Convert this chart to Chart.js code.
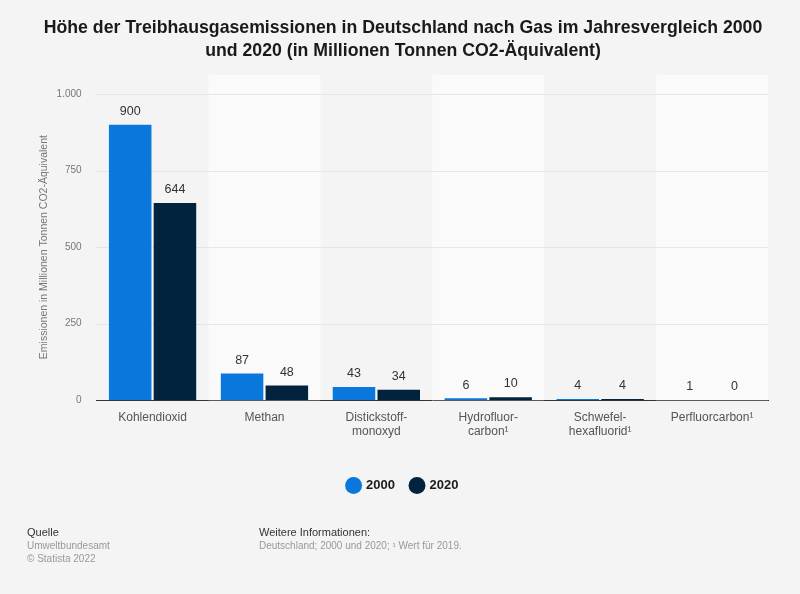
<!DOCTYPE html>
<html>
<head>
<meta charset="utf-8">
<script src="https://cdn.jsdelivr.net/npm/chart.js@4/dist/chart.umd.min.js"></script>
<style>
  html, body { margin:0; padding:0; background:#f4f4f4; }
  #wrap { position:relative; width:800px; height:594px; font-family:"Liberation Sans", Arial, sans-serif; }
  canvas { position:absolute; left:0; top:0; }
  .foot { position:absolute; font-size:10px; line-height:13px; color:#999; }
  .foot b { font-weight:normal; color:#333; font-size:11px; }
</style>
</head>
<body>
<div id="wrap">
  <canvas id="c" width="800" height="594"></canvas>
  <div class="foot" style="left:27px; top:526px;"><b>Quelle</b><br>Umweltbundesamt<br>© Statista 2022</div>
  <div class="foot" style="left:259px; top:526px;"><b>Weitere Informationen:</b><br>Deutschland; 2000 und 2020; ¹ Wert für 2019.</div>
</div>
<script>
const categories = [
  ["Kohlendioxid"],
  ["Methan"],
  ["Distickstoff-", "monoxyd"],
  ["Hydrofluor-", "carbon¹"],
  ["Schwefel-", "hexafluorid¹"],
  ["Perfluorcarbon¹"]
];
const seriesNames = ["2000", "2020"];
const values2000 = [900, 87, 43, 6, 4, 1];
const values2020 = [644, 48, 34, 10, 4, 0];
const yTicks = [0, 250, 500, 750, 1000];
const titleLines = [
  "Höhe der Treibhausgasemissionen in Deutschland nach Gas im Jahresvergleich 2000",
  "und 2020 (in Millionen Tonnen CO2-Äquivalent)"
];
const yAxisTitle = "Emissionen in Millionen Tonnen CO2-Äquivalent";

function fmt(v) {
  return String(v).replace(/\B(?=(\d{3})+(?!\d))/g, ".");
}

const bandsPlugin = {
  id: "bands",
  beforeDatasetsDraw(chart) {
    const { ctx, chartArea, scales } = chart;
    const xs = scales.x;
    ctx.save();
    ctx.fillStyle = "#fafafa";
    const w = (chartArea.right - chartArea.left) / categories.length;
    for (let i = 0; i < categories.length; i++) {
      if (i % 2 === 1) {
        const c = xs.getPixelForValue(i);
        ctx.fillRect(c - w / 2, chartArea.top - 19, w, chartArea.bottom - chartArea.top + 19);
      }
    }
    ctx.restore();
    ctx.save();
    ctx.strokeStyle = "#d4d4d4";
    ctx.setLineDash([1, 1]);
    ctx.lineWidth = 1;
    scales.y.ticks.forEach(t => {
      if (t.value === 0) return;
      const y = Math.round(scales.y.getPixelForValue(t.value)) + 0.5;
      ctx.beginPath();
      ctx.moveTo(chartArea.left, y);
      ctx.lineTo(chartArea.right, y);
      ctx.stroke();
    });
    ctx.restore();
  },
  afterDatasetsDraw(chart) {
    const { ctx } = chart;
    ctx.save();
    ctx.font = "12.5px 'Liberation Sans', Arial, sans-serif";
    ctx.fillStyle = "#333";
    ctx.textAlign = "center";
    ctx.textBaseline = "bottom";
    chart.data.datasets.forEach((ds, di) => {
      const meta = chart.getDatasetMeta(di);
      meta.data.forEach((bar, i) => {
        ctx.fillText(fmt(ds.data[i]), bar.x, bar.y - 7);
      });
    });
    ctx.restore();
  }
};

new Chart(document.getElementById("c"), {
  type: "bar",
  data: {
    labels: categories,
    datasets: [
      { label: seriesNames[0], data: values2000, backgroundColor: "#0a77dd", borderWidth: 0,
        categoryPercentage: 0.8, barPercentage: 0.95 },
      { label: seriesNames[1], data: values2020, backgroundColor: "#02233e", borderWidth: 0,
        categoryPercentage: 0.8, barPercentage: 0.95 }
    ]
  },
  options: {
    responsive: false,
    animation: false,
    devicePixelRatio: 1,
    layout: { padding: { left: 38, right: 32, top: 0, bottom: 92 } },
    plugins: {
      title: {
        display: true,
        text: titleLines,
        color: "#1a1a1a",
        font: { family: "'Liberation Sans', Arial, sans-serif", size: 17.7, weight: "bold", lineHeight: 1.3 },
        padding: { top: 17, bottom: 31 }
      },
      legend: {
        position: "bottom",
        labels: {
          usePointStyle: true,
          pointStyle: "circle",
          boxWidth: 12,
          boxHeight: 12,
          padding: 16,
          color: "#1a1a1a",
          font: { family: "'Liberation Sans', Arial, sans-serif", size: 13, weight: "bold" }
        }
      },
      tooltip: { enabled: false }
    },
    scales: {
      x: {
        afterFit(axis) { axis.height += 14; },
        grid: { display: false, drawTicks: false },
        border: { display: true, color: "#333", width: 1 },
        ticks: {
          color: "#555",
          font: { family: "'Liberation Sans', Arial, sans-serif", size: 12 },
          padding: 10,
          maxRotation: 0,
          autoSkip: false
        }
      },
      y: {
        min: 0,
        max: 1000,
        afterBuildTicks(axis) { axis.ticks = yTicks.map(v => ({ value: v })); },
        grid: { display: false, drawTicks: false },
        border: { display: false },
        ticks: {
          color: "#777",
          font: { family: "'Liberation Sans', Arial, sans-serif", size: 10 },
          padding: 15,
          callback: v => fmt(v)
        },
        title: {
          display: true,
          text: yAxisTitle,
          color: "#777",
          font: { family: "'Liberation Sans', Arial, sans-serif", size: 10.5 },
          padding: { top: 0, bottom: -9 }
        }
      }
    }
  },
  plugins: [bandsPlugin]
});
</script>
</body>
</html>
